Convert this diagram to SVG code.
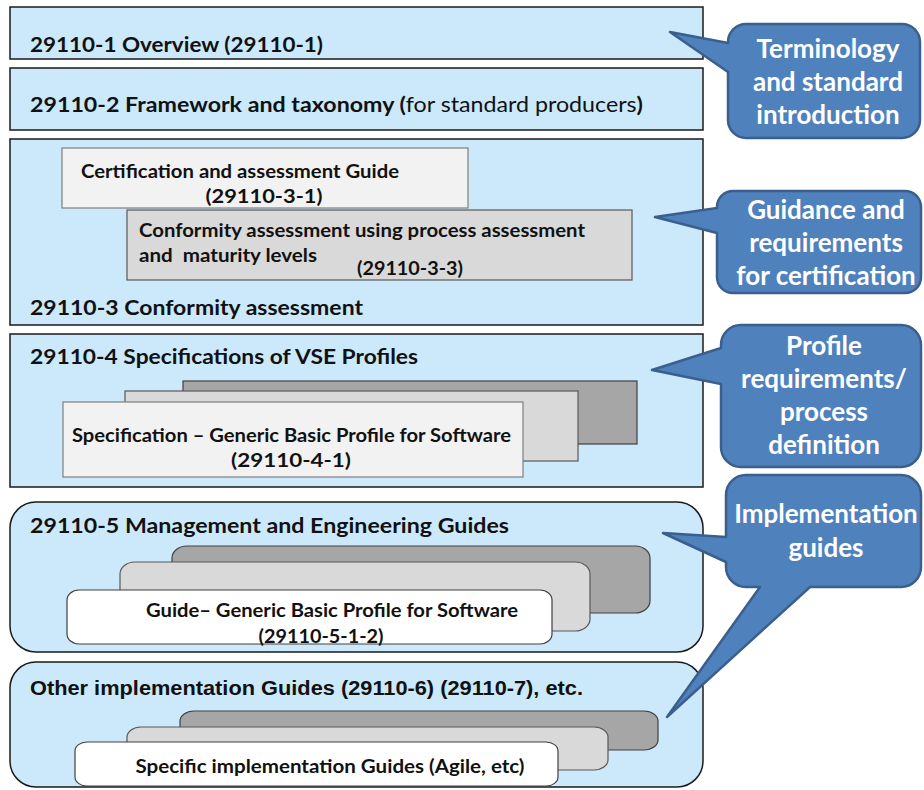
<svg xmlns="http://www.w3.org/2000/svg" width="924" height="790" viewBox="0 0 924 790">
<style>
.box{fill:#cbe9fb;stroke:#1a1a1a;stroke-width:1.5}
.c1{fill:#f2f2f2;stroke:#7f7f7f;stroke-width:1.2}
.c2{fill:#d9d9d9;stroke:#595959;stroke-width:1.2}
.c3{fill:#a6a6a6;stroke:#404040;stroke-width:1.2}
.cw{fill:#ffffff;stroke:#404040;stroke-width:1.2}
.t{font-family:Lato,"Liberation Sans",sans-serif;font-weight:bold;fill:#111}
.ta{font-family:"Liberation Sans",Arial,sans-serif;font-weight:bold;fill:#111}
.title{font-size:21.5px}
.card{font-size:18.5px}
.call{fill:#4f81bd;stroke:#3a5f8c;stroke-width:2.5;stroke-linejoin:round}
.ct{font-family:Lato,"Liberation Sans",sans-serif;font-weight:bold;font-size:26px;fill:#fff;text-anchor:middle}
</style>
<rect width="924" height="790" fill="#fff"/>
<g id="box1">
<rect class="box" x="10" y="7" width="693" height="52"/>
<text class="t title" x="30" y="52" textLength="293" lengthAdjust="spacingAndGlyphs">29110-1 Overview (29110-1)</text>
</g>
<g id="box2">
<rect class="box" x="10" y="68" width="693" height="62"/>
<text class="t title" x="30" y="112" textLength="613" lengthAdjust="spacingAndGlyphs">29110-2 Framework and taxonomy (<tspan font-weight="normal">for standard producers</tspan>)</text>
</g>
<g id="box3">
<rect class="box" x="10" y="139" width="693" height="186"/>
<rect class="c1" x="62" y="148" width="406" height="60"/>
<text class="t card" x="81" y="178" textLength="318" lengthAdjust="spacingAndGlyphs">Certification and assessment Guide</text>
<text class="t card" x="264" y="203" text-anchor="middle" textLength="117" lengthAdjust="spacingAndGlyphs">(29110-3-1)</text>
<rect class="c2" x="127" y="210" width="505" height="70"/>
<text class="t card" x="139" y="237" textLength="446" lengthAdjust="spacingAndGlyphs">Conformity assessment using process assessment</text>
<text class="t card" x="139" y="262" xml:space="preserve" textLength="178" lengthAdjust="spacingAndGlyphs">and  maturity levels</text>
<text class="t card" x="410" y="275" text-anchor="middle" textLength="106" lengthAdjust="spacingAndGlyphs">(29110-3-3)</text>
<text class="t title" x="30" y="315" textLength="333" lengthAdjust="spacingAndGlyphs">29110-3 Conformity assessment</text>
</g>
<g id="box4">
<rect class="box" x="10" y="334" width="693" height="153"/>
<text class="t title" x="30" y="364" textLength="388" lengthAdjust="spacingAndGlyphs">29110-4 Specifications of VSE Profiles</text>
<rect class="c3" x="183" y="381" width="454" height="63"/>
<rect class="c2" x="125" y="391" width="453" height="70"/>
<rect class="c1" x="63" y="402" width="460" height="75"/>
<text class="t card" x="72" y="442" textLength="439" lengthAdjust="spacingAndGlyphs">Specification – Generic Basic Profile for Software</text>
<text class="t card" x="291" y="467" text-anchor="middle" textLength="120" lengthAdjust="spacingAndGlyphs">(29110-4-1)</text>
</g>
<g id="box5">
<rect class="box" x="10" y="502" width="693" height="150" rx="26"/>
<text class="t title" x="30" y="533" textLength="479" lengthAdjust="spacingAndGlyphs">29110-5 Management and Engineering Guides</text>
<rect class="c3" x="172" y="546" width="478" height="67" rx="15" ry="12"/>
<rect class="c2" x="120" y="562" width="470" height="69" rx="15" ry="12"/>
<rect class="cw" x="67" y="590" width="485" height="54" rx="12" ry="10"/>
<text class="t card" x="146" y="617" textLength="372" lengthAdjust="spacingAndGlyphs">Guide– Generic Basic Profile for Software</text>
<text class="t card" x="321" y="643" text-anchor="middle" textLength="125" lengthAdjust="spacingAndGlyphs">(29110-5-1-2)</text>
</g>
<g id="box6">
<rect class="box" x="10" y="662" width="693" height="125" rx="26"/>
<text class="ta" font-size="20" x="30" y="695" textLength="553" lengthAdjust="spacingAndGlyphs">Other implementation Guides (29110-6) (29110-7), etc.</text>
<rect class="c3" x="180" y="711" width="478" height="39" rx="14" ry="10"/>
<rect class="c2" x="127" y="727" width="481" height="43" rx="14" ry="10"/>
<rect class="cw" x="75" y="742" width="483" height="44" rx="12" ry="9"/>
<text class="t card" x="330" y="773" text-anchor="middle" textLength="389" lengthAdjust="spacingAndGlyphs">Specific implementation Guides (Agile, etc)</text>
</g>
<g id="connectors">
</g>
<g id="callout1">
<path class="call" d="M746,24 H902 A18,18 0 0 1 920,42 V120 A18,18 0 0 1 902,138 H746 A18,18 0 0 1 728,120 V72 L670,32 L728,43 V42 A18,18 0 0 1 746,24 Z"/>
<text class="ct" x="828" y="58">Terminology</text>
<text class="ct" x="828" y="91">and standard</text>
<text class="ct" x="828" y="124">introduction</text>
</g>
<g id="callout2">
<path class="call" d="M733,191 H905 A16,16 0 0 1 921,207 V277 A16,16 0 0 1 905,293 H733 A16,16 0 0 1 717,277 V233 L655,217 L717,208 V207 A16,16 0 0 1 733,191 Z"/>
<text class="ct" x="826" y="219">Guidance and</text>
<text class="ct" x="826" y="252">requirements</text>
<text class="ct" x="826" y="285">for certification</text>
</g>
<g id="callout3">
<path class="call" d="M741,325 H901 A20,20 0 0 1 921,345 V447 A20,20 0 0 1 901,467 H741 A20,20 0 0 1 721,447 V384 L652,370 L721,348 V345 A20,20 0 0 1 741,325 Z"/>
<text class="ct" x="824" y="355">Profile</text>
<text class="ct" x="824" y="388">requirements/</text>
<text class="ct" x="824" y="421">process</text>
<text class="ct" x="824" y="454">definition</text>
</g>
<g id="callout4">
<path class="call" d="M746,475 H901 A20,20 0 0 1 921,495 V567 A20,20 0 0 1 901,587 H810 L667,717 L760,587 H746 A20,20 0 0 1 726,567 V562 L663,533 L726,537 V495 A20,20 0 0 1 746,475 Z"/>
<text class="ct" x="826" y="523">Implementation</text>
<text class="ct" x="826" y="557">guides</text>
</g>
</svg>
